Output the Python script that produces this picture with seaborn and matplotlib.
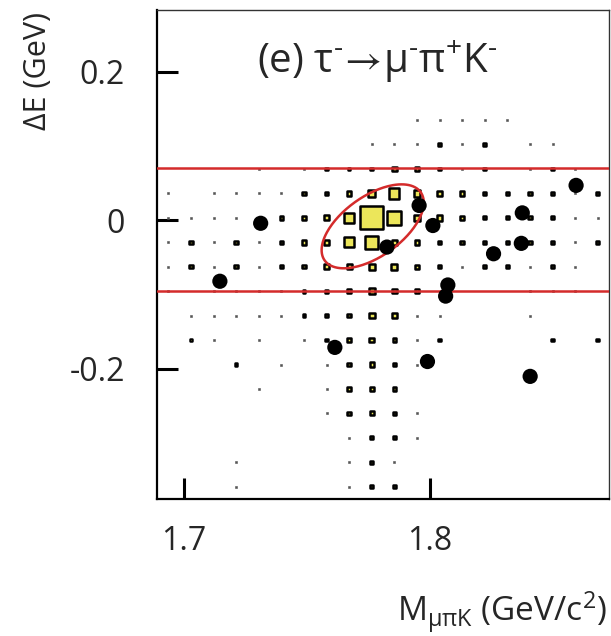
import numpy as np
import pandas as pd
import matplotlib
matplotlib.use("Agg")
import matplotlib.pyplot as plt
import seaborn as sns

# axis ranges / binning of the MC box histogram (20 x 20 bins)
m_lo, m_hi = 1.689, 1.873
de_lo, de_hi = -0.375, 0.283
n_bins = 20

# MC signal box sizes (percent of the largest bin), rows from top (high dE) to bottom
mc_box = [
    [0, 0, 0, 0, 0, 0, 0, 0, 0, 0, 0, 0, 0, 0, 0, 0, 0, 0, 0, 0],
    [0, 0, 0, 0, 0, 0, 0, 0, 0, 0, 0, 0, 0, 0, 0, 0, 0, 0, 0, 0],
    [0, 0, 0, 0, 0, 0, 0, 0, 0, 0, 0, 0, 0, 0, 0, 0, 0, 0, 0, 0],
    [0, 0, 0, 0, 0, 0, 0, 0, 0, 0, 0, 0, 0, 0, 0, 0, 0, 0, 0, 0],
    [0, 0, 0, 0, 0, 0, 0, 0, 0, 0, 0, 4, 4, 4, 4, 4, 0, 0, 0, 0],
    [0, 0, 0, 0, 0, 0, 0, 0, 0, 4, 4, 4, 14, 4, 14, 0, 4, 4, 0, 0],
    [0, 0, 0, 0, 4, 0, 4, 12, 12, 12, 20, 18, 12, 4, 12, 0, 4, 12, 4, 0],
    [4, 0, 4, 4, 4, 4, 14, 13, 20, 28, 45, 28, 20, 20, 14, 14, 14, 14, 4, 14],
    [4, 4, 4, 4, 4, 15, 20, 22, 42, 100, 60, 25, 25, 20, 14, 14, 14, 14, 4, 4],
    [4, 14, 4, 14, 4, 14, 20, 20, 42, 55, 22, 20, 14, 14, 14, 14, 14, 14, 4, 14],
    [4, 14, 4, 14, 4, 14, 14, 20, 22, 26, 25, 18, 14, 4, 14, 14, 4, 14, 4, 0],
    [4, 0, 4, 4, 4, 4, 12, 12, 18, 25, 20, 18, 0, 0, 0, 0, 4, 4, 4, 0],
    [0, 4, 4, 4, 4, 4, 12, 12, 15, 25, 22, 4, 4, 0, 0, 0, 4, 0, 0, 0],
    [0, 12, 4, 0, 4, 0, 4, 12, 14, 20, 14, 4, 12, 0, 0, 0, 0, 12, 0, 12],
    [0, 0, 0, 12, 0, 4, 0, 4, 14, 18, 14, 4, 0, 0, 0, 0, 0, 0, 0, 0],
    [0, 0, 0, 0, 4, 0, 0, 4, 18, 18, 14, 0, 0, 0, 0, 0, 0, 0, 0, 0],
    [0, 0, 0, 0, 0, 0, 0, 4, 14, 18, 13, 4, 0, 0, 0, 0, 0, 0, 0, 0],
    [0, 0, 0, 0, 0, 0, 0, 0, 4, 14, 14, 4, 0, 0, 0, 0, 0, 0, 0, 0],
    [0, 0, 0, 4, 0, 0, 0, 0, 4, 14, 4, 0, 0, 0, 0, 0, 0, 0, 0, 0],
    [0, 0, 0, 4, 0, 0, 0, 0, 4, 14, 14, 0, 0, 0, 0, 0, 0, 0, 0, 0],
]

# data events
data_m = [1.8596, 1.7957, 1.8377, 1.7312, 1.8013, 1.8373, 1.7826,
          1.8260, 1.7146, 1.8074, 1.8065, 1.7614, 1.7991, 1.8409]
data_de = [0.047, 0.020, 0.010, -0.004, -0.007, -0.031, -0.036,
           -0.045, -0.082, -0.087, -0.102, -0.171, -0.190, -0.210]

# blinded band and elliptical signal region
band_de = [0.0703, -0.0945]
ell_center = (1.7768, -0.0081)
ell_major = (0.01955, 0.0459)
ell_minor = (-0.00706, 0.0329)

sns.set_style("ticks")
plt.rcParams["font.family"] = ["Open Sans", "DejaVu Sans"]
plt.rcParams["mathtext.fontset"] = "custom"
plt.rcParams["mathtext.rm"] = "Open Sans"
plt.rcParams["mathtext.it"] = "Open Sans:italic"
plt.rcParams["mathtext.default"] = "regular"
plt.rcParams["mathtext.fallback"] = "stixsans"

fig = plt.figure(figsize=(6.11, 6.36), dpi=100)
ax = fig.add_axes([157 / 611, 1 - 499 / 636, 452 / 611, 489 / 636])

# box histogram
m_edges = np.linspace(m_lo, m_hi, n_bins + 1)
de_edges = np.linspace(de_hi, de_lo, n_bins + 1)
m_cent = 0.5 * (m_edges[:-1] + m_edges[1:])
de_cent = 0.5 * (de_edges[:-1] + de_edges[1:])
rows = []
for i, row in enumerate(mc_box):
    for j, v in enumerate(row):
        if v > 0:
            rows.append({"m": m_cent[j], "de": de_cent[i], "v": v, "area": (v / 100) ** 2})
boxes = pd.DataFrame(rows)
full_side = 16.5  # points, one bin width

# nearly empty bins: just a faint speck
tiny = boxes[boxes["v"] <= 5]
sns.scatterplot(data=tiny, x="m", y="de", marker="s", s=2.5, color="#555555",
                edgecolor="#555555", linewidth=0.4, legend=False, ax=ax, zorder=2)

filled = boxes[boxes["v"] > 5]
sns.scatterplot(data=filled, x="m", y="de", size="area", sizes=(0, full_side ** 2),
                size_norm=(0, 1), marker="s", color="#ece65a", edgecolor="black",
                linewidth=1.8, legend=False, ax=ax, zorder=2)

# band lines
for y in band_de:
    ax.axhline(y, color="#d42b2b", lw=1.8, zorder=3)

# ellipse
t = np.linspace(0, 2 * np.pi, 200)
ell = pd.DataFrame({
    "m": ell_center[0] + ell_major[0] * np.cos(t) + ell_minor[0] * np.sin(t),
    "de": ell_center[1] + ell_major[1] * np.cos(t) + ell_minor[1] * np.sin(t),
})
sns.lineplot(data=ell, x="m", y="de", sort=False, color="#d42b2b", lw=1.8,
             estimator=None, ax=ax, zorder=4)

# data points
sns.scatterplot(x=data_m, y=data_de, color="black", s=120, edgecolor="none",
                ax=ax, zorder=5)

ax.set_xlim(m_lo, m_hi)
ax.set_ylim(de_lo, de_hi)
ax.set_xticks([1.7, 1.8])
ax.set_xticklabels(["1.7", "1.8"])
ax.set_yticks([-0.2, 0, 0.2])
ax.set_yticklabels(["-0.2", "0", "0.2"])
ax.tick_params(axis="both", direction="in", length=15, width=2.2, color="black",
               labelsize=23)
ax.tick_params(axis="x", pad=19)
ax.tick_params(axis="y", pad=23)

for s in ["left", "bottom"]:
    ax.spines[s].set_linewidth(1.6)
    ax.spines[s].set_color("black")
for s in ["top", "right"]:
    ax.spines[s].set_visible(True)
    ax.spines[s].set_linewidth(1.0)
    ax.spines[s].set_color("#333333")

ax.set_xlabel(r"M$_{\mathregular{μπK}}$ (GeV/c$^{2}$)", fontsize=24, ha="right")
ax.xaxis.set_label_coords(0.995, -0.185)
ax.set_ylabel("ΔE (GeV)", fontsize=22, ha="right")
ax.yaxis.set_label_coords(-0.23, 0.995)

ax.text(0.487, 0.894,
        r"(e) τ$^{\text{-}}\!\rightarrow\!$μ$^{\text{-}}$π$^{+}$K$^{\text{-}}$",
        transform=ax.transAxes, ha="center", va="center", fontsize=29)

fig.savefig("out.png", dpi=100)
